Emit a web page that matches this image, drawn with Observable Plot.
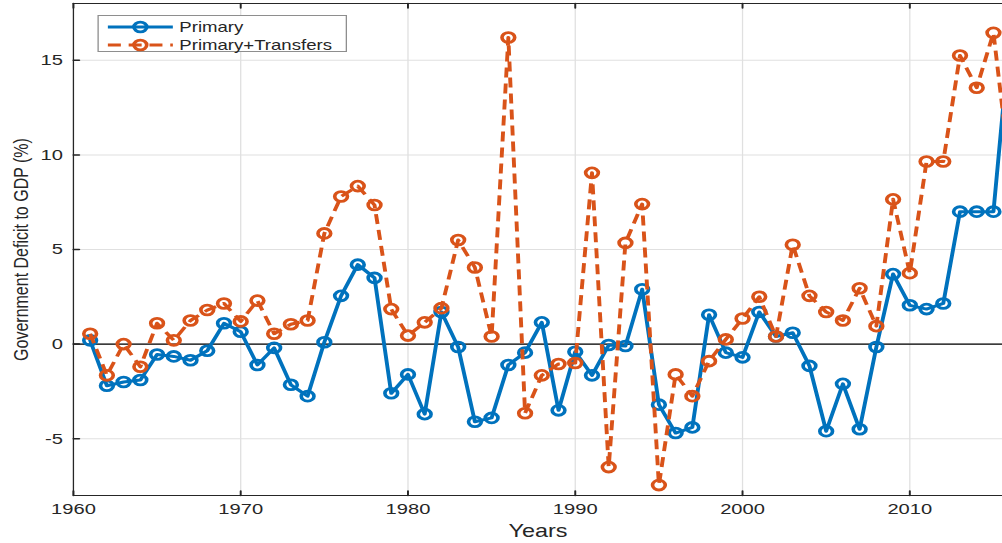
<!DOCTYPE html>
<html>
<head>
<meta charset="utf-8">
<script src="https://cdn.jsdelivr.net/npm/d3@7"></script>
<script src="https://cdn.jsdelivr.net/npm/@observablehq/plot@0.6"></script>
<style>
  html, body { margin: 0; padding: 0; background: #fff; overflow: hidden; }
  /* The figure is laid out at 771px and stretched horizontally to 1002px */
  #wrap {
    position: relative; width: 771px; height: 543px; overflow: hidden;
    transform: scaleX(1.29961); transform-origin: 0 0;
    font-family: "Liberation Sans", Arial, Helvetica, sans-serif;
  }
  #legend {
    position: absolute; left: 75px; top: 15px; width: 192px; height: 37px;
    box-sizing: border-box; border: 1px solid #8e8e8e; background: #fff;
  }
  #legend svg { display: block; overflow: visible; }
  #legend text { font-family: "Liberation Sans", Arial, sans-serif; font-size: 14.3px; fill: #262626; }
</style>
</head>
<body>
<div id="wrap">
  <div id="chart"></div>
  <div id="legend"></div>
</div>
<script>
// Government deficit to GDP (%), yearly
const years = d3.range(1961, 2017);
const primary = [
  0.2, -2.2, -2.0, -1.9, -0.55, -0.65, -0.85, -0.35, 1.1, 0.65,
  -1.1, -0.2, -2.15, -2.75, 0.1, 2.55, 4.2, 3.5, -2.6, -1.6,
  -3.7, 1.7, -0.15, -4.1, -3.9, -1.1, -0.45, 1.15, -3.5, -0.4,
  -1.65, -0.05, -0.1, 2.9, -3.2, -4.7, -4.4, 1.55, -0.45, -0.7,
  1.7, 0.4, 0.6, -1.15, -4.6, -2.1, -4.5, -0.15, 3.7, 2.05,
  1.85, 2.15, 7.0, 7.0, 7.0, 16.5
];
const primaryTransfers = [
  0.55, -1.65, 0.0, -1.2, 1.1, 0.2, 1.25, 1.8, 2.15, 1.2,
  2.3, 0.55, 1.05, 1.25, 5.85, 7.8, 8.35, 7.35, 1.85, 0.45,
  1.15, 1.9, 5.5, 4.05, 0.4, 16.2, -3.65, -1.65, -1.05, -1.0,
  9.05, -6.5, 5.35, 7.4, -7.45, -1.6, -2.75, -0.9, 0.25, 1.35,
  2.5, 0.4, 5.25, 2.55, 1.7, 1.25, 2.95, 0.95, 7.65, 3.75,
  9.65, 9.65, 15.25, 13.55, 16.45, 9.0
];
const seriesNames = ["Primary", "Primary+Transfers"];
const xTicks = [1960, 1970, 1980, 1990, 2000, 2010];
const yTicks = [-5, 0, 5, 10, 15];

const table = years.map((year, i) => ({year, primary: primary[i], transfers: primaryTransfers[i]}));

const blue = "#0072BD";
const orange = "#D95319";
const ink = "#262626";
const gridColor = "#e0e0e0";

// short inward tick drawn by a vector mark
const tickShape = {draw(ctx, l) { ctx.moveTo(0, 0); ctx.lineTo(0, -l); }};

const chart = Plot.plot({
  width: 771,
  height: 543,
  marginLeft: 56,
  marginRight: 0,
  marginTop: 3,
  marginBottom: 48,
  style: {fontFamily: "Liberation Sans, Arial, Helvetica, sans-serif", fontSize: "15px", color: ink, background: "#fff"},
  x: {domain: [1960, 2015.55]},
  y: {domain: [-8, 18]},
  marks: [
    Plot.gridX(xTicks.slice(1), {stroke: gridColor, strokeOpacity: 1}),
    Plot.gridY(yTicks, {stroke: gridColor, strokeOpacity: 1}),
    Plot.ruleY([0], {stroke: "#000", strokeWidth: 1.2}),
    Plot.axisX(xTicks, {tickSize: 0, tickPadding: 7, label: null, fontSize: 15.5, tickFormat: d => String(d)}),
    Plot.axisY(yTicks, {tickSize: 0, tickPadding: 8, label: null, fontSize: 15.5, tickFormat: d => String(d)}),
    Plot.vector(xTicks, {x: d => d, frameAnchor: "bottom", length: 4.5, anchor: "start", shape: tickShape, stroke: ink}),
    Plot.vector(xTicks, {x: d => d, frameAnchor: "top", length: 4.5, rotate: 180, anchor: "start", shape: tickShape, stroke: ink}),
    Plot.vector(yTicks, {y: d => d, frameAnchor: "left", length: 4.5, rotate: 90, anchor: "start", shape: tickShape, stroke: ink}),
    Plot.ruleX([1960], {stroke: ink, strokeWidth: 1}),
    Plot.ruleY([-8], {stroke: ink, strokeWidth: 1}),
    Plot.ruleY([18], {stroke: ink, strokeWidth: 1}),
    Plot.text(["Years"], {text: d => d, frameAnchor: "bottom", dy: 36, fontSize: 18, lineAnchor: "middle", textAnchor: "middle", fill: ink}),
    Plot.text(["Government Deficit to GDP (%)"], {text: d => d, frameAnchor: "left", dx: -40, rotate: -90, fontSize: 16, lineAnchor: "middle", textAnchor: "middle", fill: ink}),
    Plot.line(table, {x: "year", y: "primary", stroke: blue, strokeWidth: 3, clip: true}),
    Plot.dot(table, {x: "year", y: "primary", r: 4.9, stroke: blue, strokeWidth: 2.8, fill: "none", clip: true}),
    Plot.line(table, {x: "year", y: "transfers", stroke: orange, strokeWidth: 3, strokeDasharray: "10,6", strokeLinecap: "butt", clip: true}),
    Plot.dot(table, {x: "year", y: "transfers", r: 4.9, stroke: orange, strokeWidth: 2.8, fill: "none", clip: true})
  ]
});
document.getElementById("chart").appendChild(chart);

// legend: line sample with marker, then series name
const legendSvg = d3.select("#legend").append("svg").attr("width", 190).attr("height", 35);
[[seriesNames[0], blue, null, 11], [seriesNames[1], orange, "10,6", 29]].forEach(([name, color, dash, cy]) => {
  legendSvg.append("line").attr("x1", 7).attr("x2", 57).attr("y1", cy).attr("y2", cy)
    .attr("stroke", color).attr("stroke-width", 3).attr("stroke-dasharray", dash);
  legendSvg.append("circle").attr("cx", 32).attr("cy", cy).attr("r", 4.9)
    .attr("fill", "none").attr("stroke", color).attr("stroke-width", 2.8);
  legendSvg.append("text").attr("x", 62).attr("y", cy + 5).text(name);
});
</script>
</body>
</html>
